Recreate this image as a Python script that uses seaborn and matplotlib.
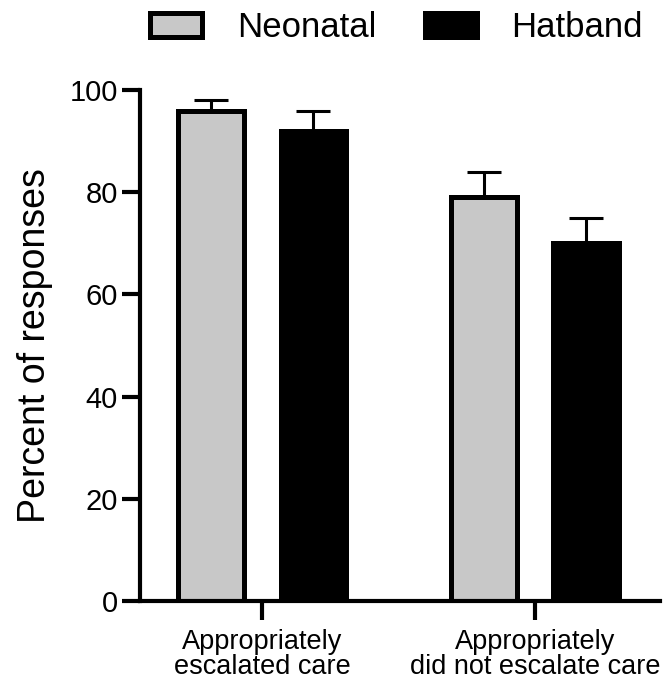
import matplotlib
matplotlib.use("Agg")
import matplotlib.pyplot as plt
from matplotlib.patches import Patch
import seaborn as sns
import pandas as pd

categories = ["Appropriately\nescalated care", "Appropriately\ndid not escalate care"]
groups = ["Neonatal", "Hatband"]
neonatal_values = [96, 79]
hatband_values = [92, 70]
neonatal_err = [2, 5]
hatband_err = [4, 5]
colors = {"Neonatal": "#c8c8c8", "Hatband": "#000000"}

df = pd.DataFrame({
    "Category": categories * 2,
    "Group": [groups[0]] * 2 + [groups[1]] * 2,
    "Value": neonatal_values + hatband_values,
})
errs = {"Neonatal": neonatal_err, "Hatband": hatband_err}

sns.set_style("ticks")
plt.rcParams["font.family"] = ["Liberation Sans", "DejaVu Sans"]
plt.rcParams.update({
    "text.color": "black", "axes.labelcolor": "black", "axes.edgecolor": "black",
    "xtick.color": "black", "ytick.color": "black",
})

fig = plt.figure(figsize=(6.64, 6.89), dpi=100)
ax = fig.add_axes([0.211, 0.128, 0.783, 0.741])

sns.barplot(data=df, x="Category", y="Value", hue="Group", hue_order=groups,
            order=categories, palette=colors, edgecolor="black", linewidth=3.6,
            width=0.75, gap=0.36, errorbar=None, legend=False, ax=ax)

for cont, g in zip(ax.containers, groups):
    for bar, e in zip(cont, errs[g]):
        xc = bar.get_x() + bar.get_width() / 2
        h = bar.get_height()
        ax.errorbar(xc, h, yerr=[[0], [e]], fmt="none", ecolor="black",
                    elinewidth=2.2, capsize=12, capthick=2.2, zorder=1)

ax.set_ylim(0, 100)
ax.set_xlim(-0.447, 1.458)
ax.set_yticks([0, 20, 40, 60, 80, 100])
ax.set_xlabel("")
ax.set_ylabel("Percent of responses", fontsize=27, labelpad=12)
for s in ["top", "right"]:
    ax.spines[s].set_visible(False)
for s in ["left", "bottom"]:
    ax.spines[s].set_linewidth(3)
    ax.spines[s].set_color("black")
ax.tick_params(axis="y", labelsize=21, width=3, length=13, pad=3, colors="black")
ax.tick_params(axis="x", labelsize=19.5, width=3, length=14, pad=6, colors="black")
for lbl in ax.get_xticklabels():
    lbl.set_linespacing(0.95)

handles = [Patch(facecolor=colors[g], edgecolor="black", linewidth=3.6, label=g) for g in groups]
fig.legend(handles=handles, loc="center", bbox_to_anchor=(0.597, 0.96), ncol=2,
           frameon=False, fontsize=25, handlelength=1.5, handleheight=0.66,
           handletextpad=1.0, columnspacing=1.4)

fig.savefig("out.png", dpi=100)
